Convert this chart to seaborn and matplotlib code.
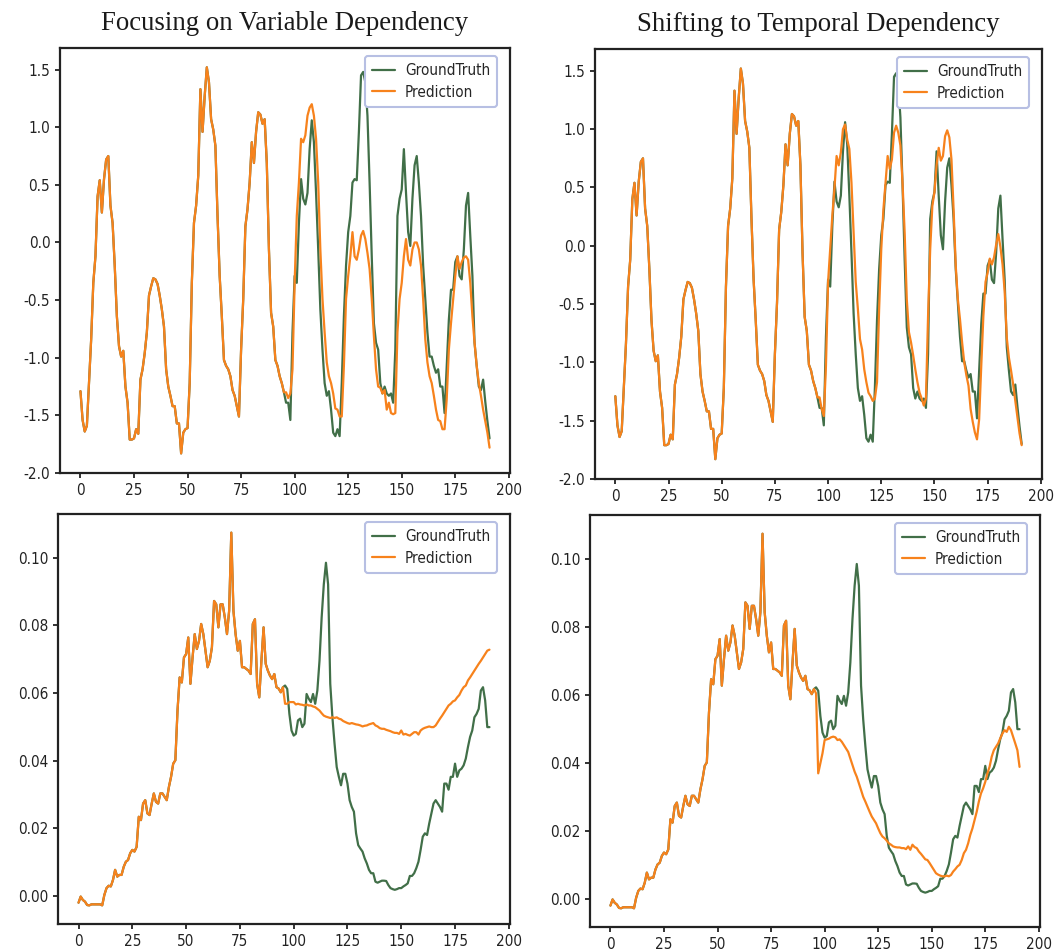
import numpy as np
import pandas as pd
import matplotlib
matplotlib.use("Agg")
import matplotlib.pyplot as plt
import seaborn as sns

# ---------------- data ----------------
gt_top = [
    -1.29, -1.54, -1.64, -1.59, -1.22, -0.84, -0.35, -0.12, 0.40, 0.54, 0.26, 0.55,
    0.72, 0.75, 0.32, 0.17, -0.20, -0.64, -0.90, -0.99, -0.94, -1.25, -1.39, -1.71,
    -1.71, -1.70, -1.62, -1.66, -1.19, -1.10, -0.96, -0.78, -0.46, -0.38, -0.31, -0.32,
    -0.36, -0.46, -0.58, -0.73, -1.10, -1.25, -1.33, -1.42, -1.42, -1.57, -1.57, -1.83,
    -1.65, -1.62, -1.61, -1.22, -0.35, 0.17, 0.32, 0.58, 1.33, 0.96, 1.27, 1.52,
    1.39, 1.07, 0.98, 0.84, 0.23, -0.29, -0.64, -1.02, -1.07, -1.10, -1.16, -1.28,
    -1.33, -1.42, -1.51, -0.93, -0.49, 0.14, 0.29, 0.52, 0.87, 0.69, 0.96, 1.13,
    1.11, 1.03, 1.07, 0.69, -0.06, -0.61, -0.73, -1.02, -1.07, -1.16, -1.22, -1.30,
    -1.39, -1.39, -1.54, -0.78, -0.29, -0.35, 0.17, 0.55, 0.38, 0.33, 0.43, 0.81,
    1.06, 0.87, 0.43, -0.06, -0.58, -0.93, -1.22, -1.33, -1.29, -1.45, -1.65, -1.68,
    -1.62, -1.68, -1.22, -0.64, -0.20, 0.09, 0.23, 0.52, 0.55, 0.54, 0.96, 1.45,
    1.48, 1.39, 1.10, 0.52, -0.12, -0.70, -0.87, -0.93, -1.22, -1.31, -1.25, -1.31,
    -1.33, -1.31, -1.39, -0.93, 0.23, 0.38, 0.46, 0.81, 0.43, 0.09, -0.03, 0.38,
    0.67, 0.75, 0.52, 0.23, -0.20, -0.49, -0.78, -0.99, -0.99, -1.07, -1.13, -1.10,
    -1.25, -1.25, -1.48, -1.07, -0.67, -0.41, -0.41, -0.17, -0.12, -0.29, -0.32, -0.06,
    0.32, 0.43, 0.06, -0.29, -0.87, -1.07, -1.25, -1.28, -1.19, -1.38, -1.55, -1.70,
]

# predictions from step 96 on (before that they coincide with the ground truth)
pred_var_top_tail = [
    -1.30, -1.35, -1.31, -1.10, -0.35, 0.23, 0.52, 0.90, 0.87, 0.93, 1.10, 1.17,
    1.20, 1.10, 0.90, 0.52, -0.06, -0.49, -0.78, -1.04, -1.16, -1.22, -1.31, -1.44,
    -1.45, -1.51, -1.51, -1.07, -0.49, -0.29, -0.12, 0.09, -0.12, -0.15, -0.06, 0.06,
    0.10, 0.03, -0.09, -0.23, -0.49, -0.81, -1.10, -1.25, -1.26, -1.31, -1.28, -1.45,
    -1.39, -1.48, -1.49, -1.48, -0.78, -0.49, -0.35, -0.12, 0.03, -0.15, -0.20, -0.06,
    0.00, 0.00, -0.06, -0.20, -0.49, -0.84, -1.04, -1.16, -1.22, -1.33, -1.45, -1.54,
    -1.55, -1.62, -1.62, -1.36, -0.93, -0.70, -0.49, -0.29, -0.12, -0.23, -0.17, -0.13,
    -0.12, -0.15, -0.35, -0.64, -0.87, -1.07, -1.22, -1.33, -1.45, -1.55, -1.65, -1.78,
]

pred_tmp_top_tail = [
    -1.30, -1.40, -1.46, -1.03, -0.31, -0.03, 0.26, 0.49, 0.77, 0.69, 0.80, 1.00,
    1.04, 0.91, 0.83, 0.54, 0.11, -0.31, -0.54, -0.80, -0.89, -1.06, -1.17, -1.26,
    -1.29, -1.33, -1.31, -1.17, -0.54, -0.03, 0.31, 0.54, 0.77, 0.66, 0.74, 0.97,
    1.03, 0.97, 0.86, 0.54, 0.11, -0.46, -0.74, -0.83, -0.94, -1.06, -1.17, -1.26,
    -1.31, -1.37, -1.31, -0.60, -0.03, 0.34, 0.46, 0.69, 0.84, 0.73, 0.77, 0.94,
    0.99, 0.93, 0.74, 0.31, -0.17, -0.46, -0.63, -0.83, -1.00, -1.11, -1.20, -1.40,
    -1.51, -1.60, -1.66, -1.49, -1.03, -0.60, -0.31, -0.23, -0.11, -0.16, -0.10, 0.01,
    0.10, -0.01, -0.16, -0.39, -0.79, -0.96, -1.07, -1.19, -1.33, -1.47, -1.61, -1.71,
]

gt_bottom = [
    -0.0020, -0.0002, -0.0012, -0.0017, -0.0027, -0.0028, -0.0025, -0.0025, -0.0025, -0.0025, -0.0025, -0.0028,
    0.0003, 0.0023, 0.0030, 0.0028, 0.0047, 0.0077, 0.0057, 0.0062, 0.0062, 0.0086, 0.0101, 0.0106,
    0.0126, 0.0136, 0.0131, 0.0145, 0.0234, 0.0224, 0.0273, 0.0283, 0.0244, 0.0239, 0.0273, 0.0303,
    0.0278, 0.0273, 0.0303, 0.0303, 0.0293, 0.0283, 0.0322, 0.0352, 0.0391, 0.0401, 0.0548, 0.0646,
    0.0631, 0.0705, 0.0715, 0.0764, 0.0627, 0.0705, 0.0774, 0.0730, 0.0754, 0.0804, 0.0774, 0.0725,
    0.0676, 0.0695, 0.0735, 0.0872, 0.0862, 0.0794, 0.0862, 0.0862, 0.0823, 0.0774, 0.0843, 0.1074,
    0.0843, 0.0774, 0.0725, 0.0754, 0.0676, 0.0676, 0.0671, 0.0666, 0.0656, 0.0804, 0.0818, 0.0627,
    0.0587, 0.0695, 0.0794, 0.0686, 0.0666, 0.0651, 0.0641, 0.0656, 0.0617, 0.0613, 0.0602, 0.0617,
    0.0622, 0.0612, 0.0538, 0.0489, 0.0474, 0.0479, 0.0519, 0.0524, 0.0499, 0.0509, 0.0597, 0.0583,
    0.0573, 0.0597, 0.0568, 0.0607, 0.0695, 0.0823, 0.0921, 0.0985, 0.0921, 0.0627, 0.0528, 0.0450,
    0.0381, 0.0352, 0.0327, 0.0361, 0.0361, 0.0332, 0.0283, 0.0263, 0.0249, 0.0185, 0.0150, 0.0140,
    0.0131, 0.0111, 0.0096, 0.0077, 0.0067, 0.0067, 0.0042, 0.0039, 0.0042, 0.0045, 0.0045, 0.0044,
    0.0032, 0.0023, 0.0020, 0.0018, 0.0020, 0.0023, 0.0023, 0.0028, 0.0032, 0.0037, 0.0059, 0.0059,
    0.0067, 0.0082, 0.0101, 0.0136, 0.0175, 0.0185, 0.0180, 0.0214, 0.0244, 0.0273, 0.0283, 0.0273,
    0.0263, 0.0249, 0.0332, 0.0332, 0.0314, 0.0352, 0.0352, 0.0391, 0.0352, 0.0371, 0.0376, 0.0386,
    0.0406, 0.0440, 0.0470, 0.0489, 0.0528, 0.0538, 0.0553, 0.0607, 0.0617, 0.0578, 0.0499, 0.0499,
]

pred_var_bottom_tail = [
    0.0568, 0.0568, 0.0573, 0.0573, 0.0573, 0.0566, 0.0568, 0.0566, 0.0565, 0.0563, 0.0566, 0.0563,
    0.0563, 0.0560, 0.0558, 0.0553, 0.0548, 0.0540, 0.0533, 0.0530, 0.0528, 0.0526, 0.0528, 0.0526,
    0.0528, 0.0524, 0.0522, 0.0517, 0.0514, 0.0511, 0.0509, 0.0511, 0.0509, 0.0507, 0.0506, 0.0504,
    0.0501, 0.0503, 0.0504, 0.0507, 0.0509, 0.0511, 0.0504, 0.0501, 0.0496, 0.0494, 0.0494, 0.0491,
    0.0489, 0.0487, 0.0484, 0.0482, 0.0482, 0.0479, 0.0489, 0.0477, 0.0479, 0.0476, 0.0474, 0.0479,
    0.0484, 0.0484, 0.0477, 0.0489, 0.0494, 0.0497, 0.0499, 0.0501, 0.0499, 0.0499, 0.0504, 0.0514,
    0.0524, 0.0533, 0.0543, 0.0553, 0.0563, 0.0568, 0.0575, 0.0578, 0.0587, 0.0594, 0.0607, 0.0617,
    0.0622, 0.0637, 0.0646, 0.0656, 0.0666, 0.0676, 0.0686, 0.0695, 0.0705, 0.0715, 0.0725, 0.0728,
]

pred_tmp_bottom_tail = [
    0.0604, 0.0369, 0.0398, 0.0428, 0.0467, 0.0469, 0.0471, 0.0475, 0.0477, 0.0475, 0.0467, 0.0469,
    0.0462, 0.0452, 0.0442, 0.0432, 0.0413, 0.0393, 0.0374, 0.0359, 0.0340, 0.0320, 0.0300, 0.0286,
    0.0271, 0.0256, 0.0242, 0.0232, 0.0222, 0.0207, 0.0193, 0.0183, 0.0178, 0.0171, 0.0163, 0.0159,
    0.0154, 0.0152, 0.0151, 0.0151, 0.0149, 0.0149, 0.0146, 0.0154, 0.0144, 0.0159, 0.0152, 0.0149,
    0.0139, 0.0132, 0.0124, 0.0116, 0.0114, 0.0105, 0.0095, 0.0085, 0.0075, 0.0071, 0.0068, 0.0066,
    0.0066, 0.0068, 0.0066, 0.0070, 0.0080, 0.0087, 0.0095, 0.0100, 0.0114, 0.0134, 0.0144, 0.0163,
    0.0188, 0.0207, 0.0232, 0.0256, 0.0286, 0.0310, 0.0325, 0.0344, 0.0369, 0.0388, 0.0418, 0.0437,
    0.0447, 0.0457, 0.0472, 0.0486, 0.0496, 0.0491, 0.0506, 0.0496, 0.0477, 0.0457, 0.0437, 0.0388,
]

HORIZON_START = 96
titles = ["Focusing on Variable Dependency", "Shifting to Temporal Dependency"]
series_names = ["GroundTruth", "Prediction"]

GT_COLOR = "#416f48"
PRED_COLOR = "#f7821c"

# ---------------- style ----------------
sns.set_theme(style="ticks")
plt.rcParams["font.family"] = ["DejaVu Sans"]
plt.rcParams["font.stretch"] = "condensed"
plt.rcParams["axes.edgecolor"] = "#222222"
plt.rcParams["axes.linewidth"] = 1.6
plt.rcParams["xtick.major.width"] = 1.3
plt.rcParams["ytick.major.width"] = 1.3
plt.rcParams["xtick.major.size"] = 3.5
plt.rcParams["ytick.major.size"] = 3.5
plt.rcParams["xtick.color"] = "#222222"
plt.rcParams["ytick.color"] = "#222222"

W, H = 1055, 951
fig = plt.figure(figsize=(W / 100, H / 100), dpi=100)


def box(left, top, right, bottom):
    return [left / W, 1 - bottom / H, (right - left) / W, (bottom - top) / H]


boxes_px = [
    (60, 48, 510, 473), (595, 49, 1042, 479),
    (58, 514, 510, 924), (590, 515, 1040, 927),
]

panels = [
    (gt_top, pred_var_top_tail), (gt_top, pred_tmp_top_tail),
    (gt_bottom, pred_var_bottom_tail), (gt_bottom, pred_tmp_bottom_tail),
]

for i, ((gt, tail), bpx) in enumerate(zip(panels, boxes_px)):
    ax = fig.add_axes(box(*bpx))
    aw, ah = bpx[2] - bpx[0], bpx[3] - bpx[1]
    gt = list(gt)
    pred = gt[:HORIZON_START] + list(tail)
    df = pd.DataFrame({
        "step": list(range(len(gt))) + list(range(len(pred))),
        "value": gt + pred,
        "series": [series_names[0]] * len(gt) + [series_names[1]] * len(pred),
    })
    sns.lineplot(data=df, x="step", y="value", hue="series",
                 palette={series_names[0]: GT_COLOR, series_names[1]: PRED_COLOR},
                 linewidth=1.6, ax=ax, estimator=None, sort=False)
    ax.set_xlabel("")
    ax.set_ylabel("")
    ax.set_xticks([0, 25, 50, 75, 100, 125, 150, 175, 200])
    ax.tick_params(labelsize=11, colors="#222222")
    if i >= 2:
        ax.set_yticks([0.00, 0.02, 0.04, 0.06, 0.08, 0.10])
        ax.yaxis.set_major_formatter(matplotlib.ticker.FormatStrFormatter("%.2f"))
    else:
        ax.set_yticks([-2.0, -1.5, -1.0, -0.5, 0.0, 0.5, 1.0, 1.5])
        ax.yaxis.set_major_formatter(matplotlib.ticker.FormatStrFormatter("%.1f"))
    for s in ax.spines.values():
        s.set_visible(True)
    leg = ax.legend(loc="upper right", bbox_to_anchor=(1 - 13 / aw, 1 - 8 / ah),
                    borderaxespad=0.0, fontsize=11, frameon=True, fancybox=True,
                    handlelength=1.5, handletextpad=0.65, borderpad=0.45,
                    labelspacing=0.45)
    leg.get_frame().set_edgecolor("#b7bfe3")
    leg.get_frame().set_linewidth(1.5)
    leg.get_frame().set_alpha(1.0)
    if i < 2:
        ax.set_title(titles[i], fontsize=19.3, family="Liberation Serif", pad=13,
                     color="#1a1a1a")

fig.savefig("out.png", dpi=100)
